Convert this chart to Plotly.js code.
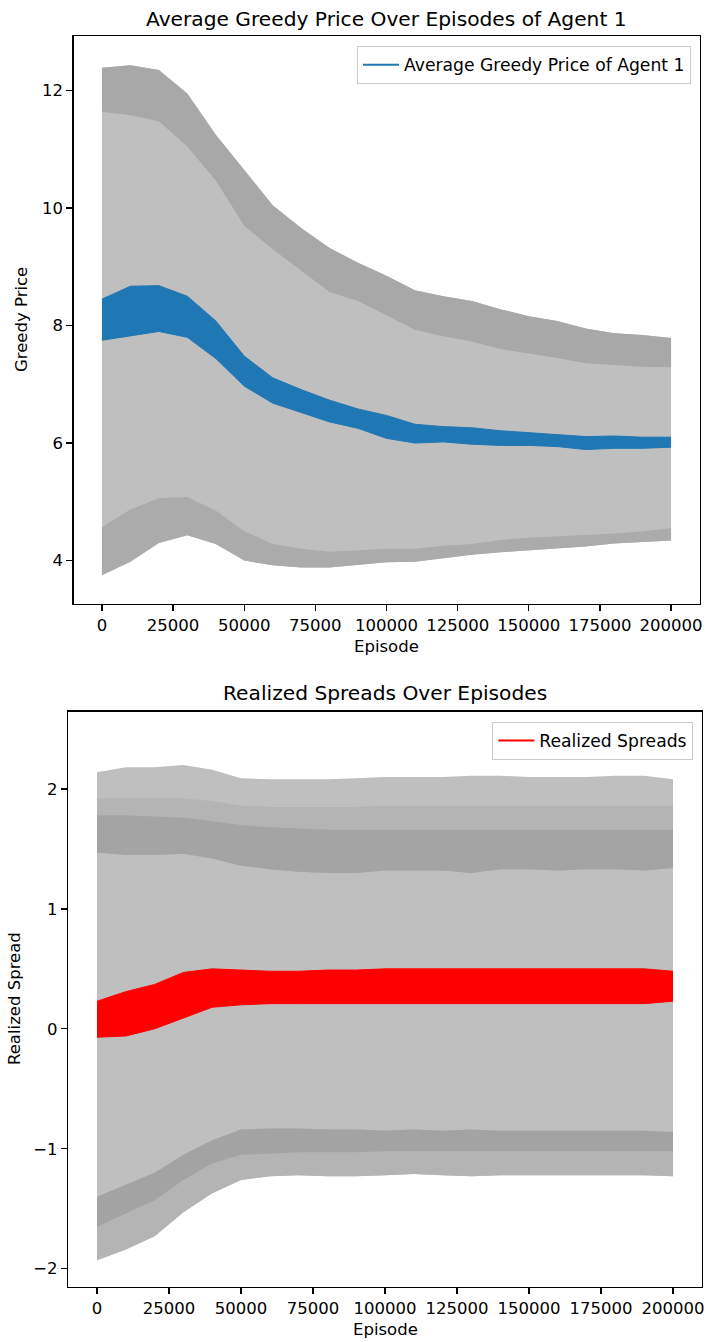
<!DOCTYPE html>
<html>
<head>
<meta charset="utf-8">
<script src="https://cdn.plot.ly/plotly-3.0.1.min.js"></script>
<style>
  html, body { margin: 0; padding: 0; background: #ffffff; }
  #chart { width: 706px; height: 1342px; }
</style>
</head>
<body>
<div id="chart"></div>
<script>
// ---------- data ----------
const episodes = [0, 10000, 20000, 30000, 40000, 50000, 60000, 70000, 80000, 90000, 100000,
                  110000, 120000, 130000, 140000, 150000, 160000, 170000, 180000, 190000, 200000];

// Top chart: Average Greedy Price of Agent 1
const priceUpperOuter = [12.39, 12.43, 12.35, 11.95, 11.25, 10.65, 10.05, 9.66, 9.32, 9.07, 8.85,
                         8.60, 8.50, 8.42, 8.28, 8.16, 8.08, 7.95, 7.87, 7.84, 7.79];
const priceUpperInner = [11.64, 11.58, 11.48, 11.05, 10.47, 9.70, 9.30, 8.93, 8.57, 8.42, 8.18,
                         7.93, 7.82, 7.73, 7.60, 7.53, 7.45, 7.36, 7.33, 7.30, 7.29];
const priceMeanHigh   = [8.45, 8.67, 8.68, 8.50, 8.08, 7.48, 7.11, 6.91, 6.73, 6.58, 6.47,
                         6.32, 6.28, 6.26, 6.21, 6.18, 6.15, 6.11, 6.12, 6.10, 6.10];
const priceMeanLow    = [7.75, 7.82, 7.90, 7.80, 7.44, 6.97, 6.68, 6.52, 6.36, 6.25, 6.08,
                         6.00, 6.02, 5.98, 5.96, 5.96, 5.94, 5.89, 5.91, 5.91, 5.93];
const priceLowerInner = [4.57, 4.87, 5.06, 5.08, 4.85, 4.50, 4.28, 4.20, 4.15, 4.18, 4.20,
                         4.20, 4.25, 4.28, 4.35, 4.39, 4.41, 4.44, 4.46, 4.50, 4.55];
const priceLowerOuter = [3.75, 3.98, 4.30, 4.43, 4.28, 4.00, 3.92, 3.88, 3.88, 3.93, 3.97,
                         3.98, 4.04, 4.10, 4.14, 4.17, 4.21, 4.24, 4.29, 4.31, 4.34];

// Bottom chart: Realized Spreads
const spreadUpperOuter = [2.14, 2.18, 2.18, 2.20, 2.16, 2.09, 2.08, 2.08, 2.08, 2.09, 2.10,
                          2.10, 2.10, 2.11, 2.11, 2.10, 2.10, 2.10, 2.11, 2.11, 2.08];
const spreadUpperShade = [1.92, 1.92, 1.92, 1.92, 1.90, 1.86, 1.85, 1.85, 1.85, 1.85, 1.86,
                          1.86, 1.86, 1.86, 1.86, 1.86, 1.86, 1.86, 1.86, 1.86, 1.86];
const spreadUpperCore  = [1.78, 1.78, 1.77, 1.76, 1.73, 1.70, 1.68, 1.67, 1.66, 1.66, 1.66,
                          1.66, 1.66, 1.66, 1.66, 1.66, 1.66, 1.66, 1.66, 1.66, 1.66];
const spreadUpperInner = [1.47, 1.45, 1.45, 1.46, 1.42, 1.36, 1.33, 1.31, 1.30, 1.30, 1.32,
                          1.32, 1.32, 1.30, 1.33, 1.33, 1.32, 1.33, 1.33, 1.32, 1.34];
const spreadMeanHigh   = [0.23, 0.31, 0.37, 0.47, 0.50, 0.49, 0.48, 0.48, 0.49, 0.49, 0.50,
                          0.50, 0.50, 0.50, 0.50, 0.50, 0.50, 0.50, 0.50, 0.50, 0.48];
const spreadMeanLow    = [-0.07, -0.06, 0.00, 0.09, 0.18, 0.20, 0.21, 0.21, 0.21, 0.21, 0.21,
                          0.21, 0.21, 0.21, 0.21, 0.21, 0.21, 0.21, 0.21, 0.21, 0.23];
const spreadLowerInner = [-1.40, -1.30, -1.20, -1.05, -0.93, -0.84, -0.83, -0.83, -0.84, -0.84, -0.85,
                          -0.84, -0.85, -0.84, -0.85, -0.85, -0.85, -0.85, -0.85, -0.85, -0.86];
const spreadLowerCore  = [-1.65, -1.54, -1.43, -1.26, -1.12, -1.05, -1.04, -1.03, -1.03, -1.03, -1.02,
                          -1.02, -1.02, -1.02, -1.02, -1.02, -1.02, -1.02, -1.02, -1.02, -1.02];
const spreadLowerOuter = [-1.93, -1.84, -1.73, -1.53, -1.37, -1.26, -1.23, -1.22, -1.23, -1.23, -1.22,
                          -1.21, -1.22, -1.23, -1.22, -1.22, -1.22, -1.22, -1.22, -1.22, -1.23];

// tick labels
const xTickVals = [0, 25000, 50000, 75000, 100000, 125000, 150000, 175000, 200000];
const xTickText = ['0', '25000', '50000', '75000', '100000', '125000', '150000', '175000', '200000'];
const priceTickVals = [4, 6, 8, 10, 12];
const priceTickText = ['4', '6', '8', '10', '12'];
const spreadTickVals = [-2, -1, 0, 1, 2];
const spreadTickText = ['\u22122', '\u22121', '0', '1', '2'];

// ---------- drawing ----------
const FONT = 'DejaVu Sans, Liberation Sans, sans-serif';
const W = 706, H = 1342;

function band(x, lo, hi, color, xa, ya, lineColor) {
  const lw = lineColor ? 1 : 0;
  return [
    { x: x, y: lo, xaxis: xa, yaxis: ya, type: 'scatter', mode: 'lines',
      line: { width: lw, color: lineColor || color }, showlegend: false, hoverinfo: 'skip' },
    { x: x, y: hi, xaxis: xa, yaxis: ya, type: 'scatter', mode: 'lines', fill: 'tonexty',
      fillcolor: color, line: { width: lw, color: lineColor || color }, showlegend: false, hoverinfo: 'skip' }
  ];
}

const GRAY = '#bfbfbf';
let traces = [];
// top subplot
traces = traces.concat(band(episodes, priceLowerOuter, priceUpperOuter, GRAY, 'x', 'y'));
traces = traces.concat(band(episodes, priceUpperInner, priceUpperOuter, '#a8a8a8', 'x', 'y'));
traces = traces.concat(band(episodes, priceLowerOuter, priceLowerInner, '#ababab', 'x', 'y'));
traces = traces.concat(band(episodes, priceMeanLow, priceMeanHigh, '#1f77b4', 'x', 'y', '#1f77b4'));
traces.push({ x: [null], y: [null], xaxis: 'x', yaxis: 'y', type: 'scatter', mode: 'lines',
  name: 'Average Greedy Price of Agent 1', line: { color: '#1f77b4', width: 2 }, legend: 'legend' });

// bottom subplot
traces = traces.concat(band(episodes, spreadLowerOuter, spreadUpperOuter, GRAY, 'x2', 'y2'));
traces = traces.concat(band(episodes, spreadUpperInner, spreadUpperShade, '#b4b4b4', 'x2', 'y2'));
traces = traces.concat(band(episodes, spreadUpperInner, spreadUpperCore, '#a4a4a4', 'x2', 'y2'));
traces = traces.concat(band(episodes, spreadLowerOuter, spreadLowerInner, '#b4b4b4', 'x2', 'y2'));
traces = traces.concat(band(episodes, spreadLowerCore, spreadLowerInner, '#a3a3a3', 'x2', 'y2'));
traces = traces.concat(band(episodes, spreadMeanLow, spreadMeanHigh, '#ff0000', 'x2', 'y2', '#ff0000'));
traces.push({ x: [null], y: [null], xaxis: 'x2', yaxis: 'y2', type: 'scatter', mode: 'lines',
  name: 'Realized Spreads', line: { color: '#ff0000', width: 2 }, legend: 'legend2' });

function px2fx(p) { return p / W; }
function py2fy(p) { return 1 - p / H; }

const axisCommon = {
  showline: true, linecolor: '#000000', linewidth: 1.3, mirror: true,
  ticks: 'outside', ticklen: 6, tickwidth: 1.3, tickcolor: '#000000',
  showgrid: false, zeroline: false,
  tickfont: { family: FONT, size: 16.5, color: '#000000' },
  tickmode: 'array', fixedrange: true
};

const legendCommon = {
  xanchor: 'right', yanchor: 'top',
  bgcolor: 'rgba(255,255,255,0.8)', bordercolor: '#cccccc', borderwidth: 1,
  itemwidth: 36,
  font: { family: FONT, size: 17.2, color: '#000000' }
};

const layout = {
  width: W, height: H,
  margin: { l: 0, r: 0, t: 0, b: 0, pad: 0 },
  paper_bgcolor: '#ffffff', plot_bgcolor: '#ffffff',
  font: { family: FONT, size: 16.5, color: '#000000' },
  showlegend: true,
  xaxis: Object.assign({}, axisCommon, {
    domain: [px2fx(73.5), px2fx(699.5)], range: [-10000, 210000], anchor: 'y',
    tickvals: xTickVals, ticktext: xTickText }),
  yaxis: Object.assign({}, axisCommon, {
    domain: [py2fy(604), py2fy(36)], range: [3.26, 12.93], anchor: 'x',
    tickvals: priceTickVals, ticktext: priceTickText }),
  xaxis2: Object.assign({}, axisCommon, {
    domain: [px2fx(68.2), px2fx(701.8)], range: [-10000, 210000], anchor: 'y2',
    tickvals: xTickVals, ticktext: xTickText }),
  yaxis2: Object.assign({}, axisCommon, {
    domain: [py2fy(1286.7), py2fy(711.7)], range: [-2.15, 2.644], anchor: 'x2',
    tickvals: spreadTickVals, ticktext: spreadTickText }),
  legend: Object.assign({}, legendCommon, { x: px2fx(691), y: py2fy(46) }),
  legend2: Object.assign({}, legendCommon, { x: px2fx(693.3), y: py2fy(721.7) }),
  annotations: [
    { text: 'Average Greedy Price Over Episodes of Agent 1', xref: 'paper', yref: 'paper',
      x: px2fx(386.5), y: py2fy(19), xanchor: 'center', yanchor: 'middle', showarrow: false,
      font: { family: FONT, size: 20.2, color: '#000000' } },
    { text: 'Episode', xref: 'paper', yref: 'paper',
      x: px2fx(386.5), y: py2fy(646), xanchor: 'center', yanchor: 'middle', showarrow: false,
      font: { family: FONT, size: 16.5, color: '#000000' } },
    { text: 'Greedy Price', xref: 'paper', yref: 'paper', textangle: -90,
      x: px2fx(22), y: py2fy(320), xanchor: 'center', yanchor: 'middle', showarrow: false,
      font: { family: FONT, size: 16.5, color: '#000000' } },
    { text: 'Realized Spreads Over Episodes', xref: 'paper', yref: 'paper',
      x: px2fx(385), y: py2fy(693), xanchor: 'center', yanchor: 'middle', showarrow: false,
      font: { family: FONT, size: 20.2, color: '#000000' } },
    { text: 'Episode', xref: 'paper', yref: 'paper',
      x: px2fx(385), y: py2fy(1329), xanchor: 'center', yanchor: 'middle', showarrow: false,
      font: { family: FONT, size: 16.5, color: '#000000' } },
    { text: 'Realized Spread', xref: 'paper', yref: 'paper', textangle: -90,
      x: px2fx(14), y: py2fy(999), xanchor: 'center', yanchor: 'middle', showarrow: false,
      font: { family: FONT, size: 16.5, color: '#000000' } }
  ]
};

Plotly.newPlot('chart', traces, layout, { staticPlot: true, displayModeBar: false });
</script>
</body>
</html>
